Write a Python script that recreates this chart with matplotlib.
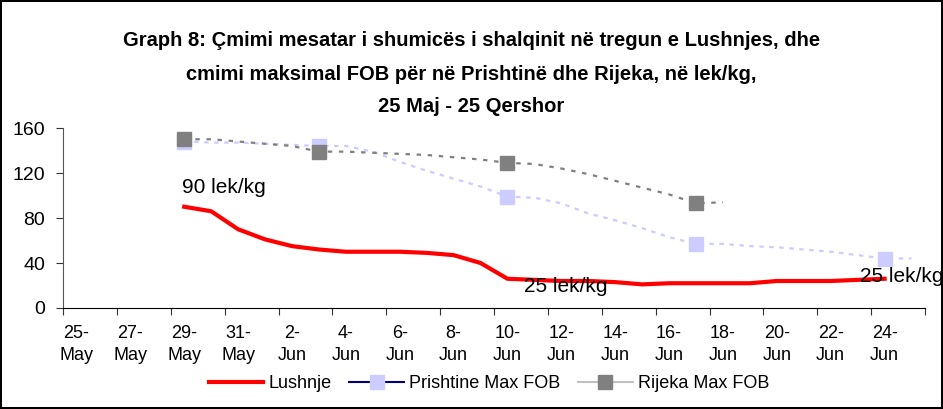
import matplotlib.pyplot as plt
from matplotlib.lines import Line2D

plt.rcParams['font.family'] = ['Liberation Sans', 'DejaVu Sans']

# day index: 0 = 25-May ... 31 = 25-Jun
tick_days = list(range(0, 32, 2))
tick_labels = ['25-\nMay', '27-\nMay', '29-\nMay', '31-\nMay', '2-\nJun', '4-\nJun',
               '6-\nJun', '8-\nJun', '10-\nJun', '12-\nJun', '14-\nJun', '16-\nJun',
               '18-\nJun', '20-\nJun', '22-\nJun', '24-\nJun']

lushnje_days = list(range(4, 31))
lushnje = [90, 86, 70, 61, 55, 52, 50, 50, 50, 49, 47, 40, 26, 25, 24, 24, 23, 21,
           22, 22, 22, 22, 24, 24, 24, 25, 26]

prishtine_days = list(range(4, 32))
prishtine = [148, 147, 147, 146, 145, 144, 144, 139, 130, 122, 115, 108, 99, 98, 93,
             84, 78, 71, 63, 57, 57, 55, 54, 52, 50, 47, 44, 44]
prishtine_marker_days = [4, 9, 16, 23, 30]

rijeka_days = list(range(4, 25))
rijeka = [150, 150, 148, 146, 144, 139, 139, 138, 137, 136, 134, 132, 129, 128, 124,
          119, 113, 107, 101, 93, 94]
rijeka_marker_days = [4, 9, 16, 23]

fig = plt.figure(figsize=(9.43, 4.09), dpi=100)
fig.patch.set_edgecolor('black')
fig.patch.set_linewidth(1.5)
ax = fig.add_axes([63/943, 1-308/409, (925-63)/943, (308-128)/409])

ax.plot(lushnje_days, lushnje, color='red', lw=3, solid_joinstyle='round')
ax.plot(prishtine_days, prishtine, color='#CCCCFF', lw=1.6, ls=(0, (2, 2.5)),
        marker='s', ms=10, mfc='#CCCCFF', mec='#CCCCFF',
        markevery=[prishtine_days.index(d) for d in prishtine_marker_days])
ax.plot(rijeka_days, rijeka, color='#808080', lw=1.6, ls=(0, (2, 3)),
        marker='s', ms=10, mfc='#808080', mec='#808080',
        markevery=[rijeka_days.index(d) for d in rijeka_marker_days])

ax.text(3.9, 107, '90 lek/kg', fontsize=15, va='center', ha='left')
ax.text(16.6, 19, '25 lek/kg', fontsize=15, va='center', ha='left')
ax.text(29.1, 28, '25 lek/kg', fontsize=15, va='center', ha='left', clip_on=False)

ax.set_xlim(-0.5, 31.5)
ax.set_ylim(0, 160)
ax.set_yticks([0, 40, 80, 120, 160])
ax.set_xticks([d - 0.5 for d in tick_days] + [31.5])
ax.set_xticklabels([])
ax.set_xticks(tick_days, minor=True)
ax.set_xticklabels(tick_labels, minor=True, linespacing=1.4)
ax.tick_params(axis='x', which='minor', length=0, pad=12, labelsize=13)
ax.tick_params(axis='x', which='major', length=5, direction='out', color='#333333')
ax.tick_params(axis='y', length=5, direction='out', labelsize=14, pad=8, color='#333333')
ax.spines['top'].set_visible(False)
ax.spines['right'].set_visible(False)
ax.spines['left'].set_color('#555555')

fig.text(0.5, 1-40/409, 'Graph 8: Çmimi mesatar i shumicës i shalqinit në tregun e Lushnjes, dhe',
         ha='center', va='center', fontsize=14.5, fontweight='bold')
fig.text(0.5, 1-74/409, 'cmimi maksimal FOB për në Prishtinë dhe Rijeka, në lek/kg,',
         ha='center', va='center', fontsize=14.5, fontweight='bold')
fig.text(0.5, 1-107/409, '25 Maj - 25 Qershor',
         ha='center', va='center', fontsize=14.5, fontweight='bold')

handles = [Line2D([], [], color='red', lw=3),
           Line2D([], [], color='#000080', lw=1.5, marker='s', ms=10, mfc='#CCCCFF', mec='#CCCCFF'),
           Line2D([], [], color='#C0C0C0', lw=1.5, marker='s', ms=10, mfc='#808080', mec='#808080')]
fig.legend(handles, ['Lushnje', 'Prishtine Max FOB', 'Rijeka Max FOB'], loc='center',
           bbox_to_anchor=(489/943, 1-384/409), ncol=3, frameon=False,
           prop={'size': 13}, handlelength=3.0,
           handletextpad=0.3, columnspacing=1.0)

plt.savefig('out.png', dpi=100)
